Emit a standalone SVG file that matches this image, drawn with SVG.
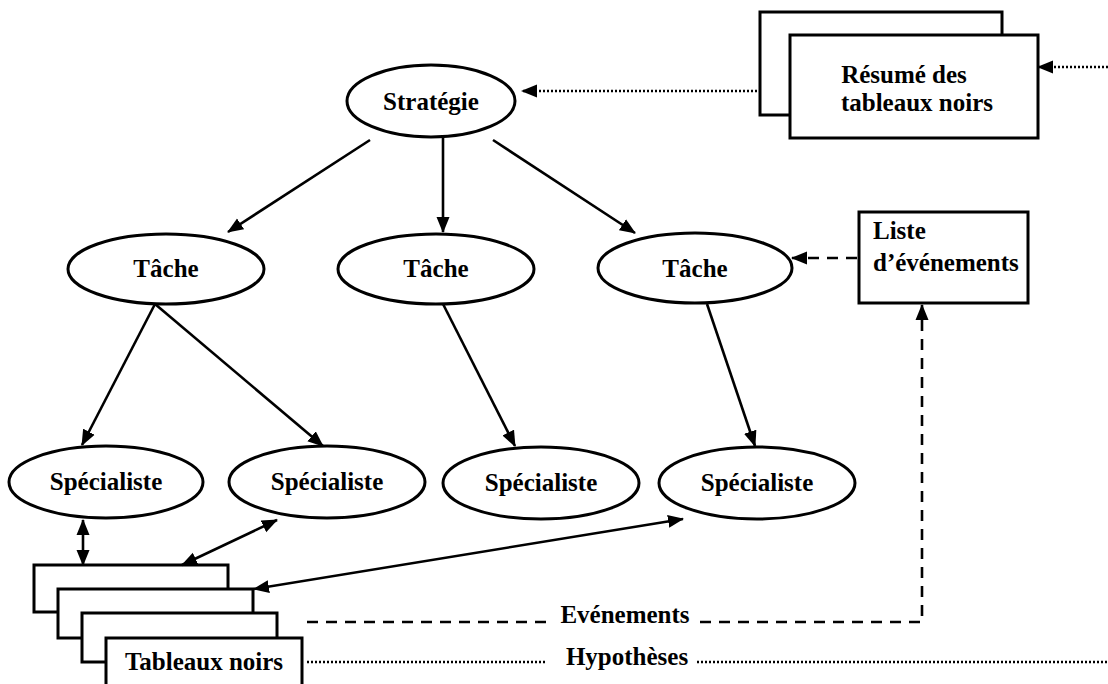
<svg xmlns="http://www.w3.org/2000/svg" width="1108" height="684" viewBox="0 0 1108 684">
<style>
.n{fill:#fff;stroke:#000;stroke-width:3}
.t{font-family:"Liberation Serif","Times New Roman",serif;font-weight:bold;font-size:25px;fill:#000}
.c{text-anchor:middle}
.l{fill:none;stroke:#000;stroke-width:2.6}
.dash{stroke-dasharray:11 8}
.dot{stroke-dasharray:2 2;stroke-width:2.4}
</style>
<defs>
<marker id="ah" markerUnits="userSpaceOnUse" markerWidth="16" markerHeight="14" refX="15" refY="6.5" orient="auto-start-reverse" viewBox="0 0 16 13">
<path d="M0,0 L16,6.5 L0,13 z" fill="#000"/>
</marker>
</defs>
<rect width="1108" height="684" fill="#fff"/>
<g id="resume">
<rect class="n" x="760" y="12" width="242" height="103"/>
<rect class="n" x="790" y="35" width="248" height="103"/>
<text class="t c" x="904" y="83">Résumé des</text>
<text class="t c" x="917" y="111">tableaux noirs</text>
</g>
<g id="strategie">
<ellipse class="n" cx="431" cy="101" rx="84" ry="36"/>
<text class="t c" x="431" y="110">Stratégie</text>
</g>
<g id="tache1">
<ellipse class="n" cx="166" cy="269" rx="98" ry="35"/>
<text class="t c" x="166" y="277">Tâche</text>
</g>
<g id="tache2">
<ellipse class="n" cx="436" cy="269" rx="98" ry="35"/>
<text class="t c" x="436" y="277">Tâche</text>
</g>
<g id="tache3">
<ellipse class="n" cx="695" cy="268" rx="97" ry="35"/>
<text class="t c" x="695" y="277">Tâche</text>
</g>
<g id="liste">
<rect class="n" x="859" y="212" width="169" height="91"/>
<text class="t" x="873" y="239">Liste</text>
<text class="t" x="873" y="271">d’événements</text>
</g>
<g id="spec1">
<ellipse class="n" cx="106" cy="482" rx="97" ry="36"/>
<text class="t c" x="106" y="490">Spécialiste</text>
</g>
<g id="spec2">
<ellipse class="n" cx="327" cy="482" rx="98" ry="36"/>
<text class="t c" x="327" y="490">Spécialiste</text>
</g>
<g id="spec3">
<ellipse class="n" cx="541" cy="483" rx="98" ry="36"/>
<text class="t c" x="541" y="491">Spécialiste</text>
</g>
<g id="spec4">
<ellipse class="n" cx="757" cy="483" rx="98" ry="36"/>
<text class="t c" x="757" y="491">Spécialiste</text>
</g>
<g id="tableaux">
<rect class="n" x="34" y="565" width="194" height="47"/>
<rect class="n" x="58" y="589" width="195" height="49"/>
<rect class="n" x="82" y="613" width="195" height="49"/>
<rect class="n" x="106" y="638" width="196" height="56"/>
<text class="t c" x="204" y="670">Tableaux noirs</text>
</g>
<g id="labels">
<text class="t c" x="625" y="623">Evénements</text>
<text class="t c" x="627" y="665">Hypothèses</text>
</g>
<g id="connectors">
<line class="l" x1="370" y1="140" x2="228" y2="232" marker-end="url(#ah)"/>
<line class="l" x1="443" y1="137" x2="443" y2="232" marker-end="url(#ah)"/>
<line class="l" x1="493" y1="140" x2="635" y2="233" marker-end="url(#ah)"/>
<line class="l" x1="155" y1="304" x2="82" y2="445" marker-end="url(#ah)"/>
<line class="l" x1="155" y1="304" x2="323" y2="446" marker-end="url(#ah)"/>
<line class="l" x1="443" y1="304" x2="515" y2="446" marker-end="url(#ah)"/>
<line class="l" x1="707" y1="304" x2="755" y2="446" marker-end="url(#ah)"/>
<line class="l" x1="83" y1="520" x2="83" y2="565" marker-start="url(#ah)" marker-end="url(#ah)"/>
<line class="l" x1="277" y1="520" x2="182" y2="565" marker-start="url(#ah)" marker-end="url(#ah)"/>
<line class="l" x1="683" y1="519" x2="254" y2="589" marker-start="url(#ah)" marker-end="url(#ah)"/>
<line class="l dot" x1="757" y1="91" x2="522" y2="91" marker-end="url(#ah)"/>
<line class="l dot" x1="1108" y1="67" x2="1038" y2="67" marker-end="url(#ah)"/>
<line class="l dash" x1="857" y1="258" x2="792" y2="258" marker-end="url(#ah)"/>
<polyline class="l dash" points="700,622 922,622 922,305" marker-end="url(#ah)"/>
<line class="l dash" x1="307" y1="622" x2="550" y2="622"/>
<line class="l dot" x1="307" y1="662" x2="545" y2="662"/>
<line class="l dot" x1="697" y1="662" x2="1108" y2="662"/>
</g>
</svg>
